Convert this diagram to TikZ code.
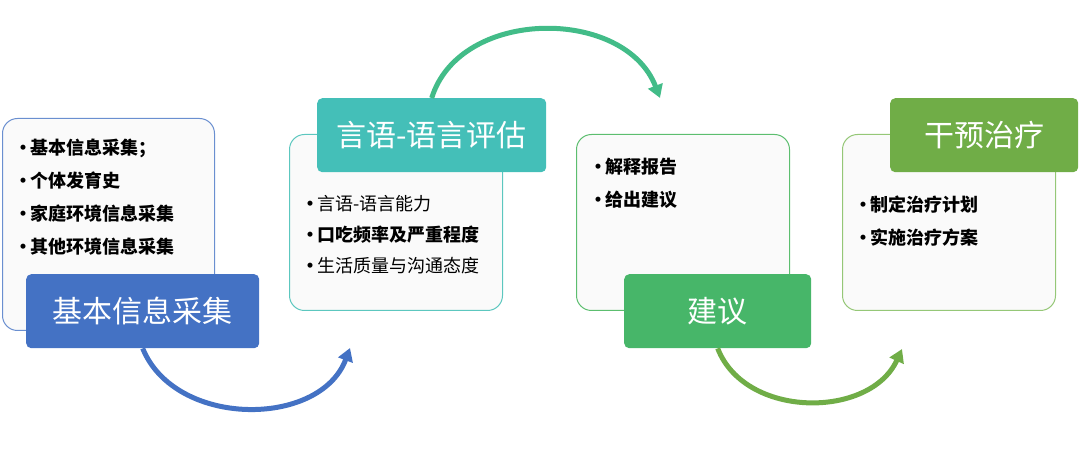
\documentclass[tikz,border=0pt]{standalone}
\usepackage{fontspec}
\setmainfont{Noto Sans CJK SC}
\usetikzlibrary{arrows.meta, positioning}
\definecolor{azul}{HTML}{4472C4}
\definecolor{azulclaro}{HTML}{6A8FD0}
\definecolor{turquesa}{HTML}{44BFB8}
\definecolor{turquesaclaro}{HTML}{5CC7BF}
\definecolor{verdemar}{HTML}{42BC88}
\definecolor{verde}{HTML}{47B669}
\definecolor{verdeclaro}{HTML}{5CBE6F}
\definecolor{oliva}{HTML}{70AD47}
\definecolor{olivaclaro}{HTML}{95C777}
\definecolor{fondo}{HTML}{FAFAFA}
\newcommand{\punto}{\makebox[10pt][l]{\kern-6pt\textbullet}}
\tikzstyle{caja} = [draw, fill=fondo, line width=1pt, rounded corners=15pt, anchor=north west, minimum width=213pt, minimum height=176pt]
\tikzstyle{titulo} = [rounded corners=5pt, text=white, anchor=north west, minimum height=74pt, font=\fontsize{30}{36}\selectfont]
\tikzstyle{lista} = [anchor=north west, inner sep=0pt, align=left, font=\fontsize{18}{33}\selectfont\bfseries]
\tikzstyle{flecha} = [line width=5pt, -{Triangle[length=13pt,width=15pt]}]

\begin{document}
\begin{tikzpicture}[x=1pt, y=-1pt]
	\useasboundingbox (0,0) rectangle (1080,454);
	% cajas
	\node [caja, draw=azulclaro, minimum height=212pt, minimum width=212pt] (caja1) at (2,118) {};
	\node [caja, draw=turquesaclaro] (caja2) at (289,134) {};
	\node [caja, draw=verdeclaro] (caja3) at (576,134) {};
	\node [caja, draw=olivaclaro] (caja4) at (842,134) {};
	% listas
	\node [lista] (lista1) at (20,139) {\punto 基本信息采集；\\ \punto 个体发育史\\ \punto 家庭环境信息采集\\ \punto 其他环境信息采集};
	\node [lista] (lista2) at (307,195) {\punto{\mdseries 言语-语言能力}\\[-2pt] \punto 口吃频率及严重程度\\[-2pt] \punto{\mdseries 生活质量与沟通态度}};
	\node [lista] (lista3) at (595,158) {\punto 解释报告\\ \punto 给出建议};
	\node [lista] (lista4) at (860,196) {\punto 制定治疗计划\\ \punto 实施治疗方案};
	% titulos
	\node [titulo, fill=azul, minimum width=233pt] (tit1) at (26,274) {基本信息采集};
	\node [titulo, fill=turquesa, minimum width=229pt] (tit2) at (317,98) {言语-语言评估};
	\node [titulo, fill=verde, minimum width=187pt] (tit3) at (624,274) {建议};
	\node [titulo, fill=oliva, minimum width=188pt] (tit4) at (890,98) {干预治疗};
	% flechas
	\coordinate (fin1) at (350,348);
	\coordinate (fin2) at (660,98);
	\coordinate (fin3) at (902,349);
	\draw [flecha, azul] (tit1.south) .. controls (175,428) and (320,428) .. (fin1);
	\draw [flecha, verdemar] (tit2.north) .. controls (460,7) and (625,7) .. (fin2);
	\draw [flecha, oliva] (tit3.south) .. controls (745,419) and (870,419) .. (fin3);
\end{tikzpicture}
\end{document}
